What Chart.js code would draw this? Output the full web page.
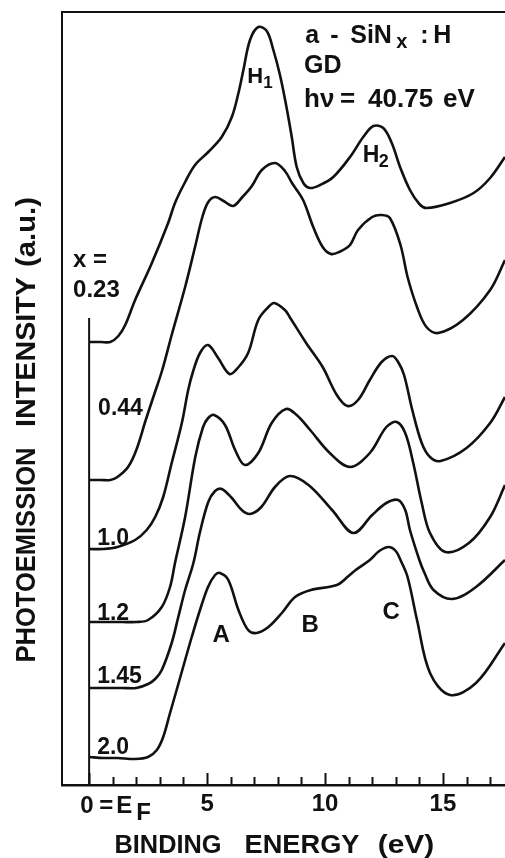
<!DOCTYPE html>
<html>
<head>
<meta charset="utf-8">
<title>a-SiNx:H valence band spectra</title>
<script src="https://cdn.jsdelivr.net/npm/chart.js@4.4.0/dist/chart.umd.min.js"></script>
<style>
    html, body { margin: 0; padding: 0; background: #fff; }
    #wrap { width: 505px; height: 858px; }
</style>
</head>
<body>
<div id="wrap"><canvas id="spectra-chart" width="505" height="858"></canvas></div>
<script>
const FONT = "'Liberation Sans', Arial, sans-serif";
const INK = '#111';

// nitrogen content x of each film, top spectrum first
const compositions = ['0.23', '0.44', '1.0', '1.2', '1.45', '2.0'];

// binding energy (eV) and photoemission intensity (a.u., curves offset vertically)
const energyX023 = [0, 0.5, 0.9, 1.24, 1.53, 1.95, 2.66, 3.35, 3.64, 4.07, 4.49, 5.05, 5.62, 6.05, 6.33, 6.54, 6.82, 7.17, 7.53, 7.81, 8.09, 8.35, 8.59, 8.8, 9.08, 9.36, 9.79, 10.35, 11.06, 11.62, 12.05, 12.47, 12.83, 13.18, 13.6, 14.0, 14.3, 15.3, 16.3, 17.0, 17.63];
const intensityX023 = [443, 443, 443, 449, 460, 485, 522, 562, 582, 603, 620, 633, 648, 668, 692, 715, 745, 758, 754, 735, 710, 680, 648, 618, 602, 597, 600, 608, 628, 648, 659, 657, 642, 618, 595, 581, 577, 582, 592, 607, 628];

const energyX044 = [0, 0.5, 0.9, 1.2, 1.65, 2.0, 2.4, 2.75, 3.1, 3.5, 4.07, 4.49, 4.8, 5.05, 5.35, 5.7, 6.1, 6.5, 6.9, 7.32, 7.88, 8.3, 8.6, 9.07, 9.5, 9.9, 10.25, 10.6, 11.06, 11.4, 12.0, 12.4, 12.75, 13.2, 13.5, 13.9, 14.3, 14.8, 15.85, 17.0, 17.63];
const intensityX044 = [305, 305, 305, 308, 318, 335, 365, 390, 415, 450, 498, 538, 568, 583, 588, 584, 579, 588, 599, 615, 622, 614, 602, 585, 558, 538, 531, 533, 540, 555, 568, 570, 567, 540, 508, 478, 458, 452, 465, 495, 525];

const energyX10 = [0, 0.6, 1.2, 1.95, 2.44, 2.8, 3.14, 3.5, 3.93, 4.2, 4.4, 4.7, 5.04, 5.47, 5.95, 6.3, 6.74, 7.17, 7.6, 7.85, 8.3, 8.5, 9.2, 9.9, 10.5, 10.95, 11.4, 11.9, 12.4, 12.85, 13.1, 13.35, 13.7, 14.1, 14.45, 14.9, 16.0, 17.0, 17.63];
const intensityX10 = [236, 236, 238, 245, 255, 268, 288, 322, 362, 395, 413, 432, 440, 427, 411, 417, 432, 465, 478, 482, 475, 468, 442, 418, 390, 379, 385, 405, 423, 429, 423, 410, 375, 342, 328, 324, 337, 362, 388];

const energyX12 = [0, 0.7, 1.4, 2.0, 2.5, 3.08, 3.43, 3.64, 4.07, 4.5, 4.83, 5.05, 5.3, 5.76, 6.19, 6.6, 7.17, 7.74, 8.35, 8.8, 9.37, 10.2, 11.06, 11.9, 12.6, 13.04, 13.4, 13.74, 14.1, 14.45, 15.1, 16.1, 17.0, 17.63];
const intensityX12 = [163, 163, 163, 163, 165, 178, 198, 222, 268, 328, 358, 367, 370, 360, 335, 320, 332, 362, 376, 370, 355, 332, 318, 332, 358, 363, 352, 322, 282, 252, 233, 242, 268, 300];

const energyX145 = [0, 0.7, 1.4, 2.0, 2.5, 2.8, 3.08, 3.5, 3.78, 4.07, 4.42, 4.7, 5.05, 5.34, 5.62, 6.05, 6.47, 6.82, 7.3, 7.88, 8.5, 9.3, 10.3, 11.2, 12.0, 12.6, 13.1, 13.4, 13.6, 14.0, 14.2, 14.6, 15.4, 16.4, 17.63];
const intensityX145 = [97, 97, 97, 97, 101, 106, 115, 142, 168, 195, 222, 253, 283, 294, 296, 287, 275, 271, 278, 298, 309, 300, 275, 252, 270, 282, 285, 275, 255, 225, 213, 195, 186, 198, 225];

const energyX20 = [0, 0.6, 1.2, 1.95, 2.5, 2.87, 3.14, 3.43, 3.71, 4.07, 4.35, 4.7, 5.04, 5.34, 5.55, 5.9, 6.33, 6.74, 7.1, 7.6, 8.17, 8.73, 9.4, 10.5, 11.0, 11.3, 11.9, 12.3, 12.7, 13.0, 13.2, 13.5, 13.9, 14.45, 15.3, 16.4, 17.63];
const intensityX20 = [28, 27, 27, 26, 28, 35, 48, 72, 95, 125, 148, 175, 198, 210, 212, 205, 175, 155, 152, 158, 172, 188, 195, 200, 209, 215, 225, 234, 238, 234, 225, 208, 165, 112, 90, 102, 142];

// E_F marker runs from the axis up to this intensity
const fermiLineTop = 467;

// axis range (eV) and labelled ticks
const energyMin = -1.15;
const energyMax = 17.63;
const majorTicks = [5, 10, 15];

// text drawn on the plot: anchor in data units, parts as [text, dx, dy, size]
const textMarks = [
    { at: [-0.68, 518], parts: [['x =', 0, 0, 24]] },
    { at: [-0.68, 488], parts: [['0.23', 0, 0, 24]] },
    { at: [0.38, 370], parts: [['0.44', 0, 0, 23]] },
    { at: [0.34, 240], parts: [['1.0', 0, 0, 23]] },
    { at: [0.34, 165], parts: [['1.2', 0, 0, 23]] },
    { at: [0.34, 102], parts: [['1.45', 0, 0, 23]] },
    { at: [0.34, 31], parts: [['2.0', 0, 0, 23]] },
    { at: [5.6, 143], align: 'center', parts: [['A', 0, 0, 24]] },
    { at: [9.37, 153], align: 'center', parts: [['B', 0, 0, 24]] },
    { at: [12.8, 166], align: 'center', parts: [['C', 0, 0, 24]] },
    { at: [6.7, 702], parts: [['H', 0, 0, 22], ['1', 16, 5, 17]] },
    { at: [11.6, 623], parts: [['H', 0, 0, 23], ['2', 16, 5, 18]] },
    { at: [9.16, 742], parts: [['a', 0, 0, 25], ['-', 25, 0, 25], ['SiN', 45, 0, 25], ['x', 91, 5, 20], [':', 115, 0, 25], ['H', 128, 0, 25]] },
    { at: [9.11, 712], parts: [['GD', 0, 0, 25]] },
    { at: [9.11, 678], parts: [['h\u03bd', 0, 0, 26], ['=', 36, 0, 26], ['40.75', 64, 0, 26], ['eV', 139, 0, 26]] }
];

class SpectraChart {
    constructor(canvasId) {
        this.canvas = document.getElementById(canvasId);
    }

    buildDatasets() {
        const series = [
            [energyX023, intensityX023],
            [energyX044, intensityX044],
            [energyX10, intensityX10],
            [energyX12, intensityX12],
            [energyX145, intensityX145],
            [energyX20, intensityX20]
        ];
        const datasets = series.map(([energy, intensity], i) => ({
            label: 'x = ' + compositions[i],
            data: energy.map((e, k) => ({ x: e, y: intensity[k] })),
            borderColor: INK,
            borderWidth: 2.6,
            tension: 0.35,
            pointRadius: 0,
            fill: false
        }));
        datasets.push({
            label: 'E_F',
            data: [{ x: 0, y: 0 }, { x: 0, y: fermiLineTop }],
            borderColor: INK,
            borderWidth: 2,
            pointRadius: 0
        });
        return datasets;
    }

    decorPlugin() {
        // squeeze or stretch one word to the width it takes in the figure
        const fitWord = (ctx, text, cx, targetWidth) => {
            const w = ctx.measureText(text).width;
            const k = Math.min(1.15, targetWidth / w);
            ctx.save();
            ctx.translate(cx, 0);
            ctx.scale(k, 1);
            ctx.textAlign = 'center';
            ctx.fillText(text, 0, 0);
            ctx.restore();
        };

        return {
            id: 'spectraDecor',
            afterDraw(chart) {
                const { ctx, chartArea: area, scales: { x, y } } = chart;
                ctx.save();
                ctx.strokeStyle = INK;
                ctx.fillStyle = INK;
                ctx.lineCap = 'butt';

                // left and top edges of the frame
                ctx.lineWidth = 2;
                ctx.beginPath();
                ctx.moveTo(area.left, area.bottom);
                ctx.lineTo(area.left, area.top);
                ctx.lineTo(area.right, area.top);
                ctx.stroke();

                // ticks point up into the plot, longer every 5 eV
                x.ticks.forEach(t => {
                    if (t.value < 0) return;
                    const px = Math.round(x.getPixelForValue(t.value)) + 0.5;
                    const len = t.value % 5 === 0 ? 12 : 8;
                    ctx.beginPath();
                    ctx.moveTo(px, area.bottom);
                    ctx.lineTo(px, area.bottom - len);
                    ctx.stroke();
                });

                // "0 = E_F" under the zero tick
                const x0 = x.getPixelForValue(0);
                ctx.font = `bold 24px ${FONT}`;
                ctx.textAlign = 'left';
                ctx.textBaseline = 'alphabetic';
                ctx.fillText('0', x0 - 9, 813);
                ctx.fillText('=', x0 + 10, 813);
                ctx.fillText('E', x0 + 27, 813);
                ctx.fillText('F', x0 + 47, 820);

                textMarks.forEach(mark => {
                    const ax = x.getPixelForValue(mark.at[0]);
                    const ay = y.getPixelForValue(mark.at[1]);
                    mark.parts.forEach(([text, dx, dy, size]) => {
                        ctx.font = `bold ${size}px ${FONT}`;
                        ctx.textAlign = mark.align || 'left';
                        ctx.fillText(text, ax + dx, ay + dy);
                    });
                });

                // axis titles
                ctx.font = `bold 26px ${FONT}`;
                ctx.save();
                ctx.translate(0, 853);
                fitWord(ctx, 'BINDING', 168, 107);
                fitWord(ctx, 'ENERGY', 302, 115);
                fitWord(ctx, '(eV)', 406, 57);
                ctx.restore();

                ctx.save();
                ctx.translate(35, 0);
                ctx.rotate(-Math.PI / 2);
                ctx.font = `bold 28px ${FONT}`;
                fitWord(ctx, 'PHOTOEMISSION', -555, 215);
                fitWord(ctx, 'INTENSITY', -352, 150);
                fitWord(ctx, '(a.u.)', -232, 70);
                ctx.restore();

                ctx.restore();
            }
        };
    }

    render() {
        const ctx = this.canvas.getContext('2d');
        this.chart = new Chart(ctx, {
            type: 'line',
            data: { datasets: this.buildDatasets() },
            options: {
                responsive: false,
                animation: false,
                devicePixelRatio: 1,
                layout: { padding: { left: 62, top: 12, right: 0, bottom: 0 } },
                plugins: {
                    legend: { display: false },
                    tooltip: { enabled: false }
                },
                scales: {
                    x: {
                        type: 'linear',
                        min: energyMin,
                        max: energyMax,
                        grid: { display: false, drawTicks: false },
                        border: { display: true, color: INK, width: 2.5 },
                        ticks: {
                            stepSize: 1,
                            includeBounds: false,
                            autoSkip: false,
                            maxRotation: 0,
                            padding: 5,
                            color: INK,
                            font: { family: FONT, size: 24, weight: 'bold' },
                            callback: v => majorTicks.includes(v) ? String(v) : ''
                        },
                        afterFit: scale => { scale.height = 73; }
                    },
                    y: { display: false, min: 0, max: 773 }
                }
            },
            plugins: [this.decorPlugin()]
        });
    }
}

new SpectraChart('spectra-chart').render();
</script>
</body>
</html>
